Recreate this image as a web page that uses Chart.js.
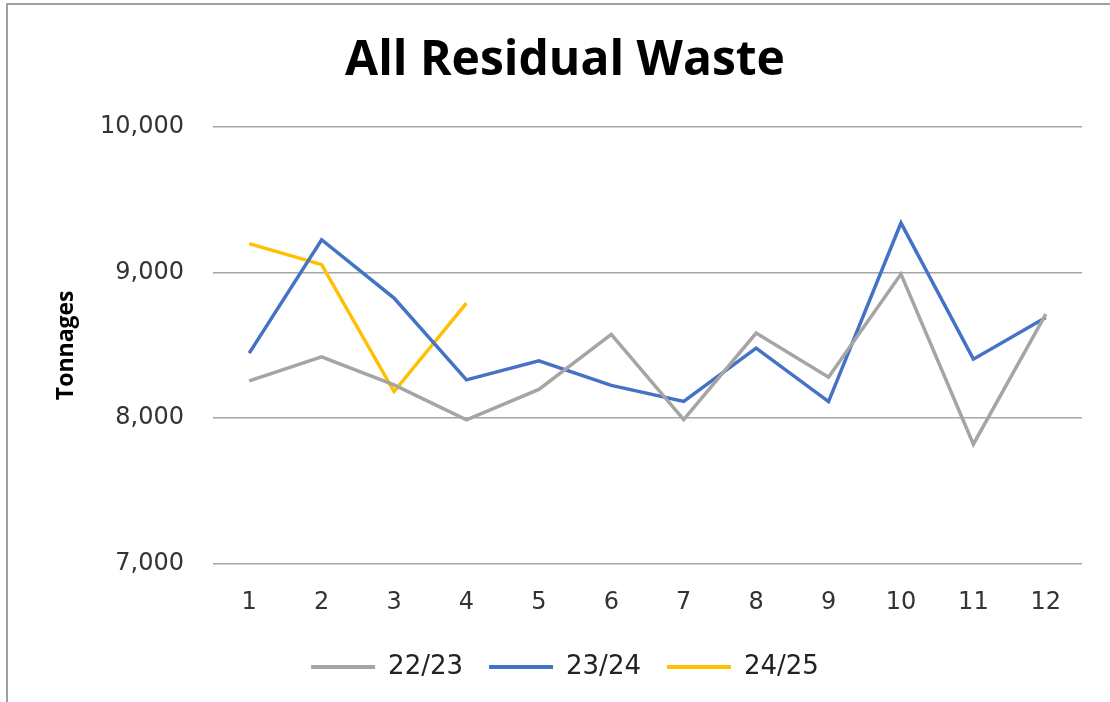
<!DOCTYPE html>
<html>
<head>
<meta charset="utf-8">
<script src="https://cdn.jsdelivr.net/npm/chart.js@4"></script>
<style>
  html, body { margin: 0; padding: 0; background: #fff; }
  #wrap { position: relative; width: 1110px; height: 702px; }
  #frame { position: absolute; left: 6px; top: 3px; right: 0; bottom: 0;
           border-top: 2px solid #a0a0a0; border-left: 2px solid #a0a0a0; pointer-events: none; }
</style>
</head>
<body>
<div id="wrap">
  <canvas id="myChart" width="1110" height="702"></canvas>
  <div id="frame"></div>
</div>
<script>
// Datos del gráfico
const months = ['1', '2', '3', '4', '5', '6', '7', '8', '9', '10', '11', '12'];
const y2223 = [8256, 8421, 8229, 7989, 8197, 8575, 7991, 8584, 8281, 8989, 7822, 8714];
const y2324 = [8446, 9224, 8824, 8263, 8394, 8225, 8115, 8481, 8114, 9339, 8405, 8691];
const y2425 = [9197, 9053, 8183, 8789];
const yTicks = [7000, 8000, 9000, 10000];

const tickFont = { family: 'DejaVu Sans', size: 24 };

const ctx = document.getElementById('myChart').getContext('2d');
const myChart = new Chart(ctx, {
    type: 'line',
    data: {
        labels: months,
        datasets: [
            { label: '22/23', data: y2223, borderColor: '#A5A5A5', backgroundColor: '#A5A5A5' },
            { label: '23/24', data: y2324, borderColor: '#4472C4', backgroundColor: '#4472C4' },
            { label: '24/25', data: y2425, borderColor: '#FFC000', backgroundColor: '#FFC000' }
        ]
    },
    options: {
        responsive: false,
        animation: false,
        elements: {
            line: { borderWidth: 3.5, tension: 0 },
            point: { radius: 0 }
        },
        layout: { padding: { left: 48, right: 28, top: 0, bottom: 12 } },
        plugins: {
            title: {
                display: true,
                text: 'All Residual Waste',
                color: '#000',
                font: { family: 'Open Sans', size: 48, weight: 'bold' },
                padding: { top: 33, bottom: 36 }
            },
            legend: {
                position: 'bottom',
                labels: {
                    color: '#222',
                    font: { family: 'DejaVu Sans', size: 26 },
                    boxWidth: 64,
                    boxHeight: 4,
                    padding: 26,
                    generateLabels: function(chart) {
                        return Chart.defaults.plugins.legend.labels.generateLabels(chart).map(function(item) {
                            item.lineWidth = 0;
                            return item;
                        });
                    }
                }
            },
            tooltip: { enabled: false }
        },
        scales: {
            x: {
                offset: true,
                afterFit: function(scale) { scale.height = 64; },
                grid: { display: false, drawTicks: false },
                border: { display: false },
                ticks: { color: '#333', font: tickFont, padding: 24, maxRotation: 0 }
            },
            y: {
                min: 7000,
                max: 10000,
                afterFit: function(scale) { scale.width = 165; },
                afterBuildTicks: function(scale) {
                    scale.ticks = yTicks.map(function(v) { return { value: v }; });
                },
                grid: { color: '#a6a6a6', lineWidth: 1.5, drawTicks: false },
                border: { display: false },
                ticks: {
                    color: '#333',
                    font: tickFont,
                    padding: 29,
                    callback: function(v) { return v.toLocaleString('en-US'); }
                },
                title: {
                    display: true,
                    text: 'Tonnages',
                    color: '#000',
                    font: { family: 'Open Sans', size: 23, weight: 'bold' },
                    padding: { top: 5, bottom: 0 }
                }
            }
        }
    }
});
</script>
</body>
</html>
